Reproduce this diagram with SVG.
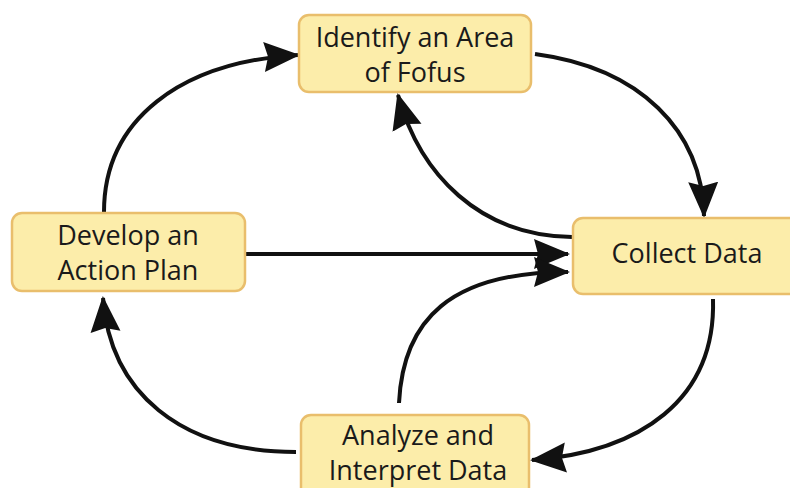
<svg xmlns="http://www.w3.org/2000/svg" width="790" height="488" viewBox="0 0 790 488">
<defs>
<style>
.box{fill:#FCEDAA;stroke:#E9BE6C;stroke-width:2.5}
.lbl{font-family:"Open Sans","Noto Sans",sans-serif;font-size:27px;fill:#1a1a1a;text-anchor:middle}
.c{fill:none;stroke:#111;stroke-width:4;marker-end:url(#ah)}
</style>
<marker id="ah" markerUnits="userSpaceOnUse" markerWidth="36" markerHeight="32" refX="34" refY="16" orient="auto" viewBox="0 0 36 32">
<path d="M0,1 L36,16 L0,31 L4,16 Z" fill="#111"/>
</marker>
</defs>
<rect width="790" height="488" fill="#fff"/>
<g id="connectors">
<path class="c" d="M104,212 C104,120 180,62 298,55"/>
<path class="c" d="M535,54 C640,68 702,130 704,216"/>
<path class="c" d="M572,237 C480,236 420,175 398,95"/>
<path class="c" d="M246,254 L568,254"/>
<path class="c" d="M399,403 C403,320 450,272 568,272"/>
<path class="c" d="M713,299 C716,400 640,452 532,460"/>
<path class="c" d="M296,452 C180,452 110,392 103,298"/>
</g>
<g id="node-identify">
<rect class="box" x="299" y="15" width="232" height="77" rx="10"/>
<text class="lbl" x="415" y="47">Identify an Area</text>
<text class="lbl" x="415" y="82">of Fofus</text>
</g>
<g id="node-develop">
<rect class="box" x="12" y="213" width="233" height="78" rx="10"/>
<text class="lbl" x="128" y="245">Develop an</text>
<text class="lbl" x="128" y="280">Action Plan</text>
</g>
<g id="node-collect">
<rect class="box" x="573" y="218" width="230" height="76" rx="10"/>
<text class="lbl" x="687" y="263">Collect Data</text>
</g>
<g id="node-analyze">
<rect class="box" x="301" y="415" width="228" height="90" rx="10"/>
<text class="lbl" x="418" y="445">Analyze and</text>
<text class="lbl" x="418" y="480">Interpret Data</text>
</g>
</svg>
